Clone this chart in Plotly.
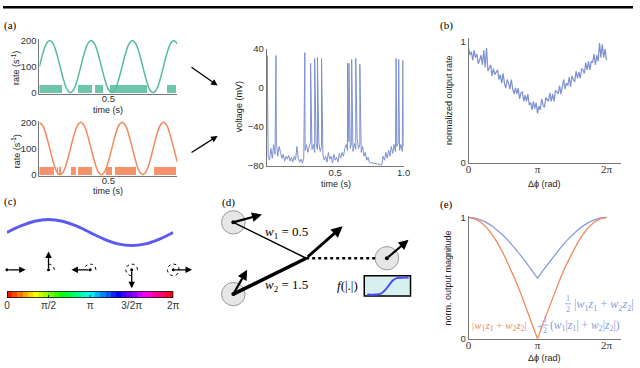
import numpy as np
import plotly.graph_objects as go

SANS = "Liberation Sans"
SERIF = "Liberation Serif"
GREEN = "#56bb9c"
ORANGE = "#f7885c"
BLUE = "#7d90d3"
LBLUE = "#8a9ae0"
AXC = "#777777"

# ---- (a) input rates (s^-1), sampled every 25 ms ----
t_rate = [i * 0.025 for i in range(41)]
rate_1 = [100, 150, 187, 200, 187, 150, 100, 50, 13, 0, 13, 50,
          100, 150, 187, 200, 187, 150, 100, 50, 13, 0, 13, 50,
          100, 150, 187, 200, 187, 150, 100, 50, 13, 0, 13, 50,
          100, 150, 187, 200, 187]
rate_2 = [200, 187, 150, 100, 50, 13, 0, 13, 50, 100, 150, 187,
          200, 187, 150, 100, 50, 13, 0, 13, 50, 100, 150, 187,
          200, 187, 150, 100, 50, 13, 0, 13, 50, 100, 150, 187,
          200, 187, 150, 100, 50]
spikes_1 = [0.003, 0.012, 0.02, 0.03, 0.037, 0.046, 0.055, 0.062, 0.072, 0.08, 0.09, 0.098,
            0.108, 0.116, 0.125, 0.138, 0.146, 0.155, 0.162,
            0.292, 0.3, 0.31, 0.318, 0.327, 0.336, 0.348, 0.356, 0.364, 0.373, 0.381,
            0.414, 0.422, 0.432, 0.442, 0.45, 0.46,
            0.522, 0.53, 0.538, 0.547, 0.556, 0.565, 0.573, 0.585, 0.593, 0.602, 0.61, 0.619,
            0.627, 0.636, 0.644, 0.656, 0.664, 0.672, 0.681, 0.69, 0.699, 0.707, 0.716,
            0.724, 0.736, 0.744, 0.752, 0.761, 0.77, 0.779,
            0.932, 0.94, 0.95, 0.958, 0.967, 0.978, 0.986]
spikes_2 = [0.003, 0.012, 0.02, 0.03, 0.038, 0.047, 0.056, 0.065, 0.074, 0.086, 0.094, 0.102,
            0.135, 0.15,
            0.242, 0.252, 0.262,
            0.29, 0.298, 0.307, 0.316, 0.325, 0.337, 0.345, 0.354, 0.362, 0.371, 0.379,
            0.495, 0.51, 0.525,
            0.56, 0.568, 0.577, 0.586, 0.595, 0.607, 0.615, 0.624, 0.632, 0.641, 0.649,
            0.661, 0.669, 0.678, 0.687, 0.695,
            0.842, 0.85, 0.86, 0.868, 0.877, 0.886, 0.898, 0.906, 0.915, 0.924, 0.933,
            0.942, 0.954, 0.962, 0.971, 0.98, 0.988]
raster_h = 30

# ---- (a) output voltage (mV) ----
t_v = [i / 100 for i in range(101)]
v_base = [-48, -70, -74, -62, -72, -58, -68, -56, -70, -60, -66,
          -72, -68, -75, -70, -73, -69, -75, -71, -76, -70,
          -74, -60, -72, -76, -73, -77, -72, -64, -58, -66,
          -60, -55, -63, -58, -66, -57, -63, -56, -65, -60,
          -68, -74, -70, -76, -66, -73, -70, -77, -68, -74,
          -71, -76, -67, -72, -66, -70, -62, -58, -64, -55,
          -62, -56, -65, -57, -63, -52, -62, -58, -66, -60,
          -70, -66, -74, -71, -76, -77, -76, -78, -77, -78,
          -77, -79, -78, -79, -70, -74, -66, -72, -64, -70,
          -60, -67, -58, -65, -60, -56, -64, -58, -65, -60]
spike_t = [0.003, 0.067, 0.278, 0.32, 0.35, 0.37, 0.40, 0.59, 0.60, 0.62, 0.65, 0.68, 0.945, 0.964, 0.995]
spike_v = [33, 33, 36, 25, 30, 31, 30, 25, 25, 29, 30, 24, 30, 29, 28]

# ---- (b) normalized output rate vs phase difference ----
phi_b = [i * 2 * np.pi / 100 for i in range(101)]
rate_b = [0.95, 0.89, 0.92, 0.85, 0.93, 0.87, 0.90, 0.82, 0.85, 0.89,
          0.81, 0.93, 0.79, 0.95, 0.76, 0.78, 0.81, 0.72, 0.78, 0.73,
          0.75, 0.77, 0.69, 0.73, 0.66, 0.74, 0.66, 0.62, 0.69, 0.66,
          0.61, 0.69, 0.61, 0.57, 0.62, 0.57, 0.62, 0.53, 0.58, 0.59,
          0.51, 0.56, 0.51, 0.57, 0.48, 0.50, 0.44, 0.51, 0.45, 0.50,
          0.41, 0.47, 0.44, 0.53, 0.48, 0.46, 0.54, 0.52, 0.51, 0.58,
          0.51, 0.57, 0.51, 0.60, 0.59, 0.57, 0.64, 0.57, 0.64, 0.69,
          0.61, 0.66, 0.64, 0.71, 0.63, 0.72, 0.69, 0.67, 0.76, 0.70,
          0.75, 0.70, 0.78, 0.77, 0.74, 0.83, 0.77, 0.84, 0.77, 0.84,
          0.83, 0.90, 0.81, 0.89, 0.84, 0.99, 0.87, 0.98, 0.87, 0.94, 0.85]

# ---- (e) normalized output magnitude ----
phi_e = [k * np.pi / 12 for k in range(25)]
mag_abs = [1, .991, .966, .924, .866, .793, .707, .609, .5, .383, .259, .131, 0,
           .131, .259, .383, .5, .609, .707, .793, .866, .924, .966, .991, 1]
mag_mix = [1, .996, .983, .962, .933, .897, .854, .805, .75, .692, .630, .566, .5,
           .566, .630, .692, .75, .805, .854, .897, .933, .962, .983, .996, 1]

# ---- (c) phase wave and phasors ----
phase_c = [k * np.pi / 6 for k in range(13)]
wave_c = [0, .5, .866, 1, .866, .5, 0, -.5, -.866, -1, -.866, -.5, 0]
phasors = [0, np.pi / 2, np.pi, 3 * np.pi / 2, 2 * np.pi]

fig = go.Figure()

# (a) rates + spike rasters
fig.add_trace(go.Bar(x=spikes_1, y=[raster_h] * len(spikes_1), width=0.0055, marker=dict(color=GREEN, line_width=0),
                     opacity=0.85, xaxis="x", yaxis="y"))
fig.add_trace(go.Scatter(x=t_rate, y=rate_1, mode="lines", line=dict(color=GREEN, width=1.5, shape="spline"),
                         xaxis="x", yaxis="y"))
fig.add_trace(go.Bar(x=spikes_2, y=[raster_h] * len(spikes_2), width=0.0055, marker=dict(color=ORANGE, line_width=0),
                     opacity=0.9, xaxis="x2", yaxis="y2"))
fig.add_trace(go.Scatter(x=t_rate, y=rate_2, mode="lines", line=dict(color=ORANGE, width=1.5, shape="spline"),
                         xaxis="x2", yaxis="y2"))

# (a) voltage
pts = sorted(list(zip(t_v, v_base)) + list(zip(spike_t, spike_v)))
fig.add_trace(go.Scatter(x=[p[0] for p in pts], y=[p[1] for p in pts], mode="lines",
                         line=dict(color=BLUE, width=1), xaxis="x3", yaxis="y3"))

# (b)
fig.add_trace(go.Scatter(x=phi_b, y=rate_b, mode="lines", line=dict(color=BLUE, width=1.2),
                         xaxis="x4", yaxis="y4"))

# (e)
fig.add_trace(go.Scatter(x=phi_e, y=mag_mix, mode="lines", line=dict(color=LBLUE, width=1.3),
                         xaxis="x5", yaxis="y5"))
fig.add_trace(go.Scatter(x=phi_e, y=mag_abs, mode="lines", line=dict(color=ORANGE, width=1.3),
                         xaxis="x5", yaxis="y5"))

# (c) wave
fig.add_trace(go.Scatter(x=phase_c, y=wave_c, mode="lines", line=dict(color="#5b5bf2", width=3, shape="spline"),
                         xaxis="x6", yaxis="y6"))

# (c) colour bar
edges = np.linspace(0, 2 * np.pi, 33)
fig.add_trace(go.Heatmap(x=edges, y=[0, 1], z=[list((edges[:-1] + edges[1:]) / 2)],
                         colorscale=[[0, "#ff0000"], [1 / 6, "#ffff00"], [1 / 3, "#00ff00"], [0.5, "#00ffff"],
                                     [2 / 3, "#0000ff"], [5 / 6, "#ff00ff"], [1, "#ff0000"]],
                         zmin=0, zmax=2 * np.pi, showscale=False, hoverinfo="skip", xaxis="x7", yaxis="y7"))
for p in phasors[1:4]:
    fig.add_shape(type="line", xref="x7", yref="y7", x0=p, x1=p, y0=0, y1=1,
                  line=dict(color="#333", width=1, dash="dot"))
fig.add_shape(type="rect", xref="x7", yref="y7", x0=0, x1=2 * np.pi, y0=0, y1=1,
              line=dict(color="black", width=1.5))

# ---- schematic overlay in pixel units ----
P = dict(xref="x8", yref="y8")

def arrow(x0, y0, x1, y1, w=1.3, size=1.0):
    fig.add_annotation(x=x1, y=y1, ax=x0, ay=y0, axref="x8", ayref="y8", showarrow=True,
                       arrowhead=2, arrowsize=size, arrowwidth=w, arrowcolor="black", text="", **P)

def text(x, y, s, size=10, font=SANS, color="#222", angle=0, anchor="center"):
    fig.add_annotation(x=x, y=y, text=s, showarrow=False, textangle=angle, xanchor=anchor,
                       font=dict(family=font, size=size, color=color), **P)

def line(xs, ys, w=1.5, dash="solid", color="black"):
    fig.add_trace(go.Scatter(x=xs, y=ys, mode="lines", line=dict(color=color, width=w, dash=dash),
                             xaxis="x8", yaxis="y8"))

def half(x, y, color):
    # stacked 1/2
    text(x, y - 6, "1", size=8, font=SERIF, color=color)
    text(x, y + 6, "2", size=8, font=SERIF, color=color)
    line([x - 3, x + 3], [y, y], w=0.8, color=color)

fig.add_shape(type="rect", x0=0, x1=640, y0=0, y1=2.5, fillcolor="black", line_width=0, **P)

# (a) arrows to the neuron
arrow(190, 62, 218, 82)
arrow(190, 152, 218, 134)

# (c) phasors
cy, L, r = 272, 19, 6
for p in phasors:
    cx = 4 + 169 * p / (2 * np.pi)
    arrow(cx, cy, cx + L * np.cos(p), cy - L * np.sin(p), w=1.3)
    if p > 0:
        a = np.linspace(0, p, 30)
        line(list(cx + r * np.cos(a)), list(cy - r * np.sin(a)), w=1, dash="dot")
    fig.add_trace(go.Scatter(x=[cx], y=[cy], mode="markers", marker=dict(color="black", size=3),
                             xaxis="x8", yaxis="y8"))

# (d) neurons
cells = [(234, 223), (234, 297), (390, 260)]
for cx_, cy_ in cells:
    fig.add_shape(type="circle", x0=cx_ - 12, x1=cx_ + 12, y0=cy_ - 12, y1=cy_ + 12,
                  fillcolor="#e6e6e6", line=dict(color="#999", width=1), layer="below", **P)
line([234, 308], [223, 260], w=1.5)
line([234, 308], [297, 260], w=3.5)
line([308, 378], [260, 260], w=2.5, dash="dot")
fig.add_trace(go.Scatter(x=[c[0] for c in cells], y=[c[1] for c in cells], mode="markers",
                         marker=dict(color="black", size=4), xaxis="x8", yaxis="y8"))
arrow(234, 223, 263, 215, w=2.2, size=0.9)
arrow(234, 297, 248, 272, w=2.2, size=0.9)
arrow(308, 260, 345, 227, w=2.8, size=0.8)
arrow(390, 260, 412, 241, w=2.2, size=0.9)
text(288, 233, "<i>w</i><sub>1</sub> = 0.5", size=13, font=SERIF, color="black")
text(288, 288, "<i>w</i><sub>2</sub> = 1.5", size=13, font=SERIF, color="black")
text(350, 288, "<i>f</i>(|.|)", size=13, font=SERIF, color="black")
fig.add_shape(type="rect", x0=367, x1=414, y0=278, y1=299, fillcolor="#d6efef",
              line=dict(color="black", width=1.5), layer="below", **P)
sig_x = [370, 378, 384, 388, 392, 396, 400, 406, 412]
sig_y = [297.5, 297.5, 296.5, 293, 288, 283, 280.5, 280, 280]
fig.add_trace(go.Scatter(x=sig_x, y=sig_y, mode="lines", line=dict(color="#4a4aff", width=2, shape="spline"),
                         xaxis="x8", yaxis="y8"))

# panel labels
for lx, ly, s in [(8, 20, "(a)"), (451, 20, "(b)"), (8, 202, "(c)"), (229, 203, "(d)"), (451, 205, "(e)")]:
    text(lx, ly, s, size=11, font=SERIF, color="black")

# axis titles
text(13, 64, "rate (s<sup>-1</sup>)", size=9, angle=-90)
text(13, 150, "rate (s<sup>-1</sup>)", size=9, angle=-90)
text(107, 107, "time (s)", size=9)
text(107, 191, "time (s)", size=9)
text(240, 104, "voltage (mV)", size=9, angle=-90)
text(338, 183, "time (s)", size=9)
text(453, 97, "normalized output rate", size=9, angle=-90)
text(550, 183, "Δϕ (rad)", size=9)
text(452, 280, "norm. output magnitude", size=9, angle=-90)
text(550, 363, "Δϕ (rad)", size=9)

# (e) formulas
wz = "<i>w</i><sub>1</sub><i>z</i><sub>1</sub> + <i>w</i><sub>2</sub><i>z</i><sub>2</sub>"
text(504, 330, "|" + wz + "|", size=11, font=SERIF, color=ORANGE)
half(574, 307, LBLUE)
text(578, 308, "|" + wz + "|", size=12, font=SERIF, color=LBLUE, anchor="left")
text(540, 330, "+", size=11, font=SERIF, color=LBLUE, anchor="left")
half(551, 329, LBLUE)
text(554, 330, "(<i>w</i><sub>1</sub>|<i>z</i><sub>1</sub>| + <i>w</i><sub>2</sub>|<i>z</i><sub>2</sub>|)",
     size=11.5, font=SERIF, color=LBLUE, anchor="left")

# ---- axes ----
def px_dom(a, b, total):
    return [a / total, b / total]

def ydom(top, bottom):
    return [1 - bottom / 368, 1 - top / 368]

ax_common = dict(showgrid=False, zeroline=False, showline=True, linecolor=AXC, linewidth=1, ticks="",
                 tickfont=dict(family=SANS, size=9.5, color="#333"))
ax_serif = dict(ax_common, tickfont=dict(family=SERIF, size=11, color="#333"))
hidden = dict(visible=False, showgrid=False, zeroline=False)

fig.update_layout(
    width=640, height=368, margin=dict(l=0, r=0, t=0, b=0),
    paper_bgcolor="white", plot_bgcolor="rgba(0,0,0,0)", showlegend=False, bargap=0,
    xaxis=dict(ax_common, domain=px_dom(37, 177, 640), range=[0, 1], tickvals=[0.5], ticktext=["0.5"],
               ticklabelstandoff=-4, anchor="y"),
    yaxis=dict(ax_common, domain=ydom(34.1, 90.3), range=[-3, 205], tickvals=[0, 100, 200], anchor="x"),
    xaxis2=dict(ax_common, domain=px_dom(37, 177, 640), range=[0, 1], tickvals=[0.5], ticktext=["0.5"],
                ticklabelstandoff=-4, anchor="y2"),
    yaxis2=dict(ax_common, domain=ydom(118.6, 174.8), range=[-3, 205], tickvals=[0, 100, 200], anchor="x2"),
    xaxis3=dict(ax_common, domain=px_dom(268, 407, 640), range=[0, 1], tickvals=[0.5, 1.0], ticktext=["0.5", "1.0"],
                ticklabelstandoff=-2, anchor="y3"),
    yaxis3=dict(ax_common, domain=ydom(44, 165), range=[-80, 40], tickvals=[-80, -40, 0, 40],
                ticktext=["−80", "−40", "0", "40"], anchor="x3"),
    xaxis4=dict(ax_serif, domain=px_dom(473, 628, 640), range=[0, 2 * np.pi * 155 / 140],
                tickvals=[0, np.pi, 2 * np.pi], ticktext=["0", "π", "2π"], ticklabelstandoff=-4, anchor="y4"),
    yaxis4=dict(ax_common, domain=ydom(33.25, 162), range=[0, 1.03], tickvals=[0, 1], anchor="x4"),
    xaxis5=dict(ax_serif, domain=px_dom(473, 628, 640), range=[0, 2 * np.pi * 155 / 140],
                tickvals=[0, np.pi, 2 * np.pi], ticktext=["0", "π", "2π"], ticklabelstandoff=-4, anchor="y5"),
    yaxis5=dict(ax_common, domain=ydom(216.75, 343), range=[0, 1.01], tickvals=[0, 1], anchor="x5"),
    xaxis6=dict(hidden, domain=px_dom(4, 173, 640), range=[0, 2 * np.pi], anchor="y6"),
    yaxis6=dict(hidden, domain=ydom(217.3, 249.7), range=[-1.2, 1.2], anchor="x6"),
    xaxis7=dict(showgrid=False, zeroline=False, showline=False, ticks="", domain=px_dom(4, 173, 640),
                range=[0, 2 * np.pi], tickvals=phasors, ticktext=["0", "π/2", "π", "3/2π", "2π"],
                tickfont=dict(family=SANS, size=10, color="#333"), anchor="y7"),
    yaxis7=dict(hidden, domain=ydom(294, 301), range=[0, 1], anchor="x7"),
    xaxis8=dict(hidden, domain=[0, 1], range=[0, 640], anchor="y8"),
    yaxis8=dict(hidden, domain=[0, 1], range=[368, 0], anchor="x8"),
)

fig.write_html("out.html", config={"displayModeBar": False},
               post_script="document.body.style.margin='0';document.body.style.overflow='hidden';")
